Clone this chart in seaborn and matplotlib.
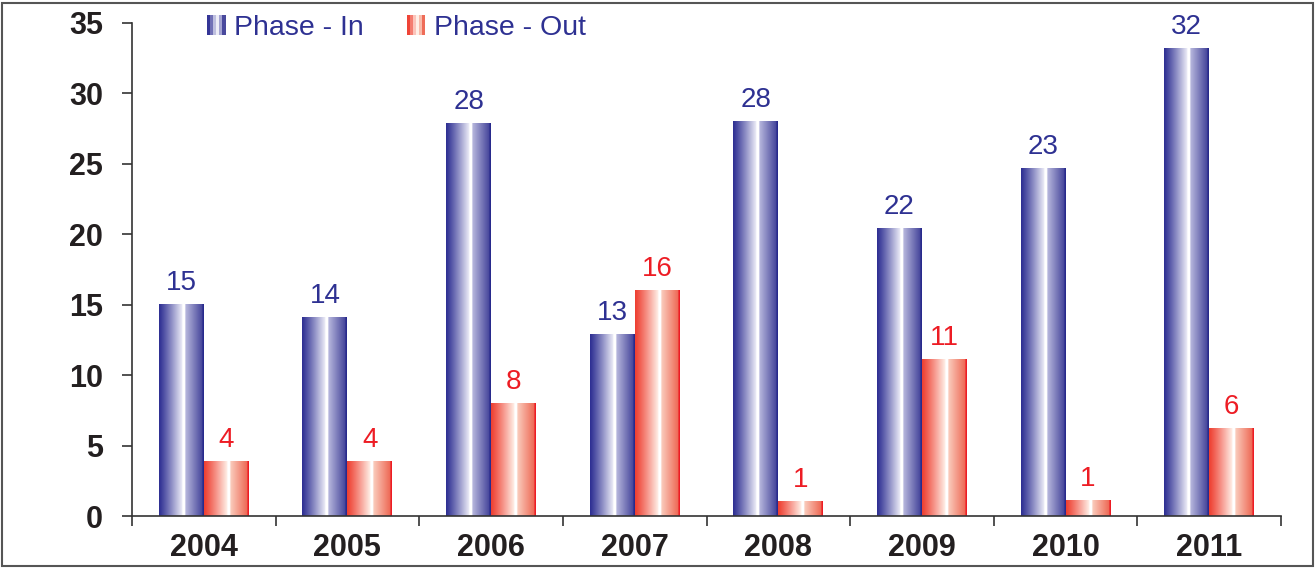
import numpy as np
import pandas as pd
import matplotlib
matplotlib.use("Agg")
import matplotlib.pyplot as plt
from matplotlib.patches import Rectangle, Patch
import seaborn as sns

# ---------------- data ----------------
years = ["2004", "2005", "2006", "2007", "2008", "2009", "2010", "2011"]
phase_in = [15.0, 14.1, 27.9, 12.9, 28.0, 20.4, 24.7, 33.2]
phase_out = [3.9, 3.9, 8.0, 16.0, 1.05, 11.1, 1.1, 6.2]
in_labels = ["15", "14", "28", "13", "28", "22", "23", "32"]
out_labels = ["4", "4", "8", "16", "1", "11", "1", "6"]
series_names = ["Phase - In", "Phase - Out"]

NAVY = "#2E3192"
RED = "#ED1C24"
TXT = "#231F20"

df = pd.DataFrame({
    "year": years * 2,
    "value": phase_in + phase_out,
    "series": [series_names[0]] * len(years) + [series_names[1]] * len(years),
})

sns.set_theme(style="white")
plt.rcParams["font.family"] = ["Liberation Sans", "DejaVu Sans"]

fig = plt.figure(figsize=(13.16, 5.69), dpi=100)
ax = fig.add_axes([132 / 1316, 1 - 516 / 569, (1281 - 132) / 1316, (516 - 23) / 569])

sns.barplot(data=df, x="year", y="value", hue="series", width=0.626,
            palette=[NAVY, RED], ax=ax, legend=False, saturation=1)


def lerp(a, b, t):
    a = np.array(a, float); b = np.array(b, float)
    return a + (b - a) * t


def gradient(kind, n=200):
    if kind == "in":
        dark = (45, 46, 146); light = (238, 238, 248)
        r0 = (185, 185, 222); r1 = (70, 70, 155); edge = (40, 42, 140)
    else:
        dark = (238, 62, 48); light = (255, 240, 232)
        r0 = (250, 205, 190); r1 = (238, 105, 85); edge = (237, 28, 36)
    out = np.zeros((n, 3))
    for i in range(n):
        t = i / (n - 1)
        if t < 0.52:
            s = (t / 0.52) ** 1.1
            c = lerp(dark, light, s)
        elif t < 0.585:
            c = np.array((255, 255, 255))
        elif t < 0.965:
            s = (t - 0.585) / (0.965 - 0.585)
            c = lerp(r0, r1, s)
        else:
            c = np.array(edge)
        out[i] = c
    return out / 255.0


grads = [gradient("in"), gradient("out")]
for ci, cont in enumerate(ax.containers[:2]):
    g = grads[ci][None, :, :]
    for p in cont.patches:
        x, y = p.get_x(), p.get_y()
        w, h = p.get_width(), p.get_height()
        p.set_facecolor("none")
        p.set_edgecolor("none")
        ax.imshow(g, extent=[x, x + w, y, y + h], aspect="auto",
                  interpolation="bilinear", zorder=2)

ax.bar_label(ax.containers[0], labels=in_labels, padding=6, color=NAVY, fontsize=20)
ax.bar_label(ax.containers[1], labels=out_labels, padding=6, color=RED, fontsize=20)

ax.set_xlim(-0.5, len(years) - 0.5)
ax.set_ylim(0, 35)
ax.set_yticks(np.arange(0, 36, 5))
ax.set_xticks(np.arange(-0.5, len(years), 1), minor=True)
ax.set_xlabel("")
ax.set_ylabel("")
for lab in ax.get_xticklabels() + ax.get_yticklabels():
    lab.set_fontweight("bold")
    lab.set_color(TXT)
    lab.set_fontsize(22)
ax.tick_params(axis="x", which="major", length=0, pad=12)
ax.tick_params(axis="x", which="minor", length=7, width=1.2, color="#333333", direction="out", bottom=True)
ax.tick_params(axis="y", which="major", length=7, width=1.2, color="#333333", direction="out", left=True, pad=14)
sns.despine(ax=ax, top=True, right=True)
for s in ("left", "bottom"):
    ax.spines[s].set_color("#333333")
    ax.spines[s].set_linewidth(1.2)
ax.grid(False)


class GradHandler:
    def __init__(self, grad):
        self.grad = grad

    def legend_artist(self, legend, orig_handle, fontsize, handlebox):
        x0, y0 = handlebox.xdescent, handlebox.ydescent
        w, h = handlebox.width, handlebox.height
        idx = [5, 40, 80, 103, 130, 190]
        n = len(idx)
        last = None
        for i, k in enumerate(idx):
            r = Rectangle((x0 + i * w / n, y0), w / n, h, facecolor=self.grad[k],
                          edgecolor="none", transform=handlebox.get_transform())
            handlebox.add_artist(r)
            last = r
        return last


h_in = Patch(label=series_names[0])
h_out = Patch(label=series_names[1])
leg = fig.legend([h_in, h_out], series_names, loc="center left",
                 bbox_to_anchor=(207 / 1316, 1 - 28 / 569), ncol=2, frameon=False,
                 handlelength=0.65, handleheight=0.7, handletextpad=0.3, columnspacing=1.5,
                 borderpad=0, borderaxespad=0, fontsize=20.5,
                 handler_map={h_in: GradHandler(grads[0]), h_out: GradHandler(grads[1])})
for t in leg.get_texts():
    t.set_color(NAVY)

fig.patches.append(Rectangle((2 / 1316, 3 / 569), 1311 / 1316, 563 / 569,
                             transform=fig.transFigure, fill=False,
                             edgecolor="#555555", linewidth=1.5))

fig.savefig("out.png", dpi=100)
